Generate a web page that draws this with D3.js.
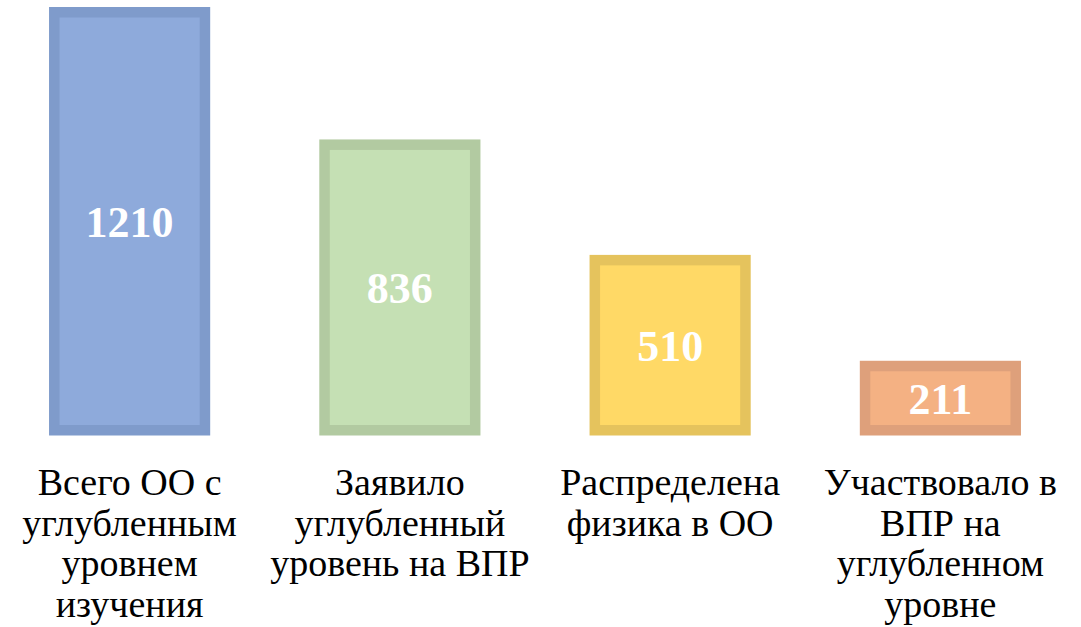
<!DOCTYPE html>
<html>
<head>
<meta charset="utf-8">
<script src="https://cdn.jsdelivr.net/npm/d3@7"></script>
<style>
  html, body { margin: 0; padding: 0; background: #ffffff; }
  svg { display: block; }
</style>
</head>
<body>
<svg id="chart" width="1081" height="627"></svg>
<script>
const categories = [
  "Всего ОО с углубленным уровнем изучения",
  "Заявило углубленный уровень на ВПР",
  "Распределена физика в ОО",
  "Участвовало в ВПР на углубленном уровне"
];
const categoryLines = [
  ["Всего ОО с", "углубленным", "уровнем", "изучения"],
  ["Заявило", "углубленный", "уровень на ВПР"],
  ["Распределена", "физика в ОО"],
  ["Участвовало в", "ВПР на", "углубленном", "уровне"]
];
const values = [1210, 836, 510, 211];
const fillColors = ["#8eaadb", "#c5e0b4", "#ffd966", "#f4b183"];
const borderColors = ["#7f9bcb", "#b2caa1", "#e5c35d", "#dea07b"];

const svg = d3.select("#chart");

const x = d3.scaleBand()
  .domain(categories)
  .range([-5.5, 1075.5])
  .paddingInner(0.4037)
  .paddingOuter(0.2018);

const y = d3.scaleLinear()
  .domain([0, 1210])
  .range([435.5, 7]);

const border = 10.5;
const serif = "'Liberation Serif', 'Times New Roman', Times, serif";

const g = svg.append("g");

const bars = g.selectAll("g.bar")
  .data(categories)
  .join("g")
  .attr("class", "bar");

bars.append("rect")
  .attr("x", d => x(d))
  .attr("y", (d, i) => y(values[i]))
  .attr("width", x.bandwidth())
  .attr("height", (d, i) => y(0) - y(values[i]))
  .attr("fill", (d, i) => borderColors[i]);

bars.append("rect")
  .attr("x", d => x(d) + border)
  .attr("y", (d, i) => y(values[i]) + border)
  .attr("width", x.bandwidth() - 2 * border)
  .attr("height", (d, i) => Math.max(0, y(0) - y(values[i]) - 2 * border))
  .attr("fill", (d, i) => fillColors[i]);

bars.append("text")
  .attr("x", d => x(d) + x.bandwidth() / 2)
  .attr("y", (d, i) => (y(values[i]) + y(0)) / 2)
  .attr("dy", "0.35em")
  .attr("text-anchor", "middle")
  .attr("font-family", serif)
  .attr("font-weight", "bold")
  .attr("font-size", 44)
  .attr("fill", "#ffffff")
  .text((d, i) => values[i]);

const labels = g.selectAll("text.cat")
  .data(categories)
  .join("text")
  .attr("class", "cat")
  .attr("text-anchor", "middle")
  .attr("font-family", serif)
  .attr("font-size", 38)
  .attr("fill", "#000000");

labels.each(function(d, i) {
  const t = d3.select(this);
  const cx = x(d) + x.bandwidth() / 2;
  categoryLines[i].forEach((line, j) => {
    t.append("tspan")
      .attr("x", cx)
      .attr("y", 495 + j * 40.7)
      .text(line);
  });
});
</script>
</body>
</html>
